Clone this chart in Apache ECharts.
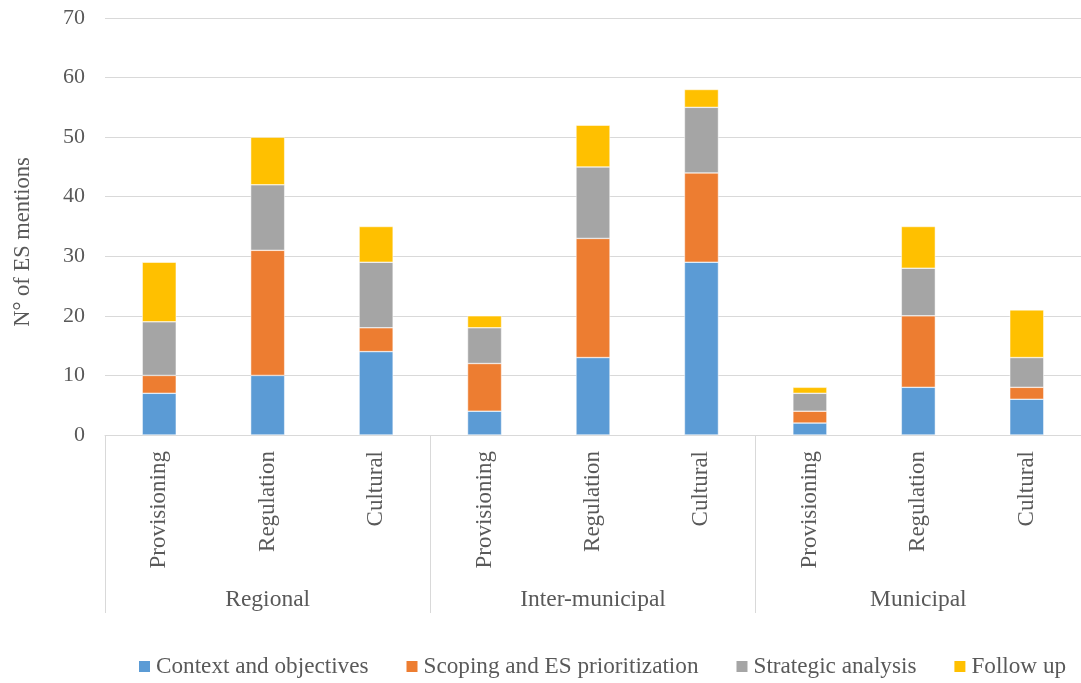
<!DOCTYPE html>
<html>
<head>
<meta charset="utf-8">
<script src="https://cdn.jsdelivr.net/npm/echarts@6/dist/echarts.min.js"></script>
<style>
  html, body { margin: 0; padding: 0; background: #fff; }
  #chart { width: 1081px; height: 683px; }
</style>
</head>
<body>
<div id="chart"></div>
<script>
// ES types within each planning level
const categories = ['Provisioning', 'Regulation', 'Cultural',
                    'Provisioning', 'Regulation', 'Cultural',
                    'Provisioning', 'Regulation', 'Cultural'];
const groups = ['Regional', 'Inter-municipal', 'Municipal'];
const yTicks = { min: 0, max: 70, interval: 10 };

// Number of ES mentions per planning stage
const contextObjectives = [7, 10, 14, 4, 13, 29, 2, 8, 6];
const scopingPrioritization = [3, 21, 4, 8, 20, 15, 2, 12, 2];
const strategicAnalysis = [9, 11, 11, 6, 12, 11, 3, 8, 5];
const followUp = [10, 8, 6, 2, 7, 3, 1, 7, 8];

const seriesNames = ['Context and objectives', 'Scoping and ES prioritization', 'Strategic analysis', 'Follow up'];
const seriesData = [contextObjectives, scopingPrioritization, strategicAnalysis, followUp];
const colors = ['#5b9bd5', '#ed7d31', '#a5a5a5', '#ffc000'];

const FONT = '"Liberation Serif", "Times New Roman", serif';
const TEXT = '#595959';
const LINE = '#d9d9d9';

const chart = echarts.init(document.getElementById('chart'), null, { renderer: 'canvas' });

chart.setOption({
  animation: false,
  color: colors,
  textStyle: { fontFamily: FONT },
  grid: { left: 105, right: -7, top: 18, bottom: 248, containLabel: false },
  legend: {
    top: 655,
    left: 137,
    width: 940,
    padding: 0,
    itemWidth: 13,
    itemHeight: 13,
    itemGap: 36,
    icon: 'rect',
    textStyle: { fontFamily: FONT, fontSize: 23.2, color: TEXT },
    data: seriesNames
  },
  graphic: [{
    type: 'text',
    x: 23,
    y: 242,
    rotation: Math.PI / 2,
    style: {
      text: 'N° of ES mentions',
      fontFamily: FONT,
      fontSize: 22.5,
      fill: TEXT,
      align: 'center',
      verticalAlign: 'middle'
    }
  }],
  xAxis: [{
    type: 'category',
    data: categories,
    position: 'bottom',
    axisLine: { show: true, lineStyle: { color: LINE, width: 1 } },
    axisTick: { show: false },
    axisLabel: {
      rotate: 90,
      interval: 0,
      margin: 16,
      fontFamily: FONT,
      fontSize: 23,
      color: TEXT
    }
  }, {
    type: 'category',
    data: groups,
    position: 'bottom',
    axisLine: { show: false },
    axisTick: { show: true, length: 178, lineStyle: { color: LINE, width: 1 } },
    axisLabel: {
      interval: 0,
      margin: 153,
      fontFamily: FONT,
      fontSize: 23.5,
      color: TEXT
    }
  }],
  yAxis: {
    type: 'value',
    min: yTicks.min,
    max: yTicks.max,
    interval: yTicks.interval,
    axisLine: { show: false },
    axisTick: { show: false },
    splitLine: { lineStyle: { color: LINE, width: 1 } },
    axisLabel: { fontFamily: FONT, fontSize: 22, color: TEXT, margin: 20 }
  },
  series: seriesNames.map((name, i) => ({
    name,
    type: 'bar',
    stack: 'total',
    xAxisIndex: 0,
    barWidth: 34,
    data: seriesData[i],
    itemStyle: { color: colors[i], borderColor: '#ffffff', borderWidth: 0.5 }
  }))
});
</script>
</body>
</html>
